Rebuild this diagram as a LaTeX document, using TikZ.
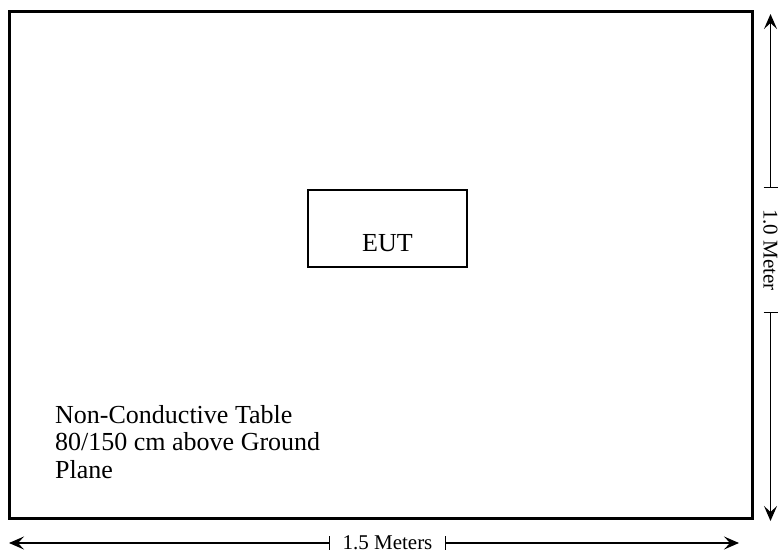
\documentclass[tikz,border=0pt]{standalone}
\usepackage{fontspec}
\setmainfont{Liberation Serif}
\usetikzlibrary{arrows.meta}
\begin{document}
\begin{tikzpicture}[x=1pt,y=-1pt,
  tablebox/.style={draw, line width=3pt, minimum width=743pt, minimum height=506pt, inner sep=0pt},
  eutbox/.style={draw, line width=1.4pt, minimum width=159pt, minimum height=77pt, inner sep=0pt},
  bigtext/.style={font=\fontsize{26}{27.5}\selectfont, inner sep=0pt},
  dimtext/.style={font=\fontsize{21}{23}\selectfont, inner sep=0pt},
  dimline/.style={line width=1.3pt, -{Stealth[length=15pt,width=13pt,inset=6pt]}},
  tickline/.style={line width=1.3pt}]
\useasboundingbox (0,0) rectangle (784,559);
\node[tablebox] (table) at (380.5,265) {};
\node[eutbox] (eut) at (387.5,228.5) {};
\node[bigtext] (euttxt) at (387.5,243) {EUT};
\node[bigtext, anchor=north west, align=left] (note) at (55,405)
  {Non-Conductive Table\\80/150 cm above Ground\\Plane};
% horizontal dimension
\node[dimtext, minimum width=115pt, minimum height=12pt] (w) at (387.5,543) {1.5 Meters};
\coordinate (wl) at (9,543);
\coordinate (wr) at (739,543);
\draw[dimline] (w.west) -- (wl);
\draw[dimline] (w.east) -- (wr);
\draw[tickline] ([yshift=7pt]w.west) -- ([yshift=-7pt]w.west);
\draw[tickline] ([yshift=7pt]w.east) -- ([yshift=-7pt]w.east);
% vertical dimension
\node[dimtext, rotate=-90, minimum width=124pt, minimum height=12pt] (h) at (770.5,250) {1.0 Meter};
\coordinate (ht) at (770.5,14);
\coordinate (hb) at (770.5,521);
\draw[dimline] (h.west) -- (ht);
\draw[dimline] (h.east) -- (hb);
\draw[tickline] ([xshift=-7pt]h.west) -- ([xshift=7pt]h.west);
\draw[tickline] ([xshift=-7pt]h.east) -- ([xshift=7pt]h.east);
\end{tikzpicture}
\end{document}
